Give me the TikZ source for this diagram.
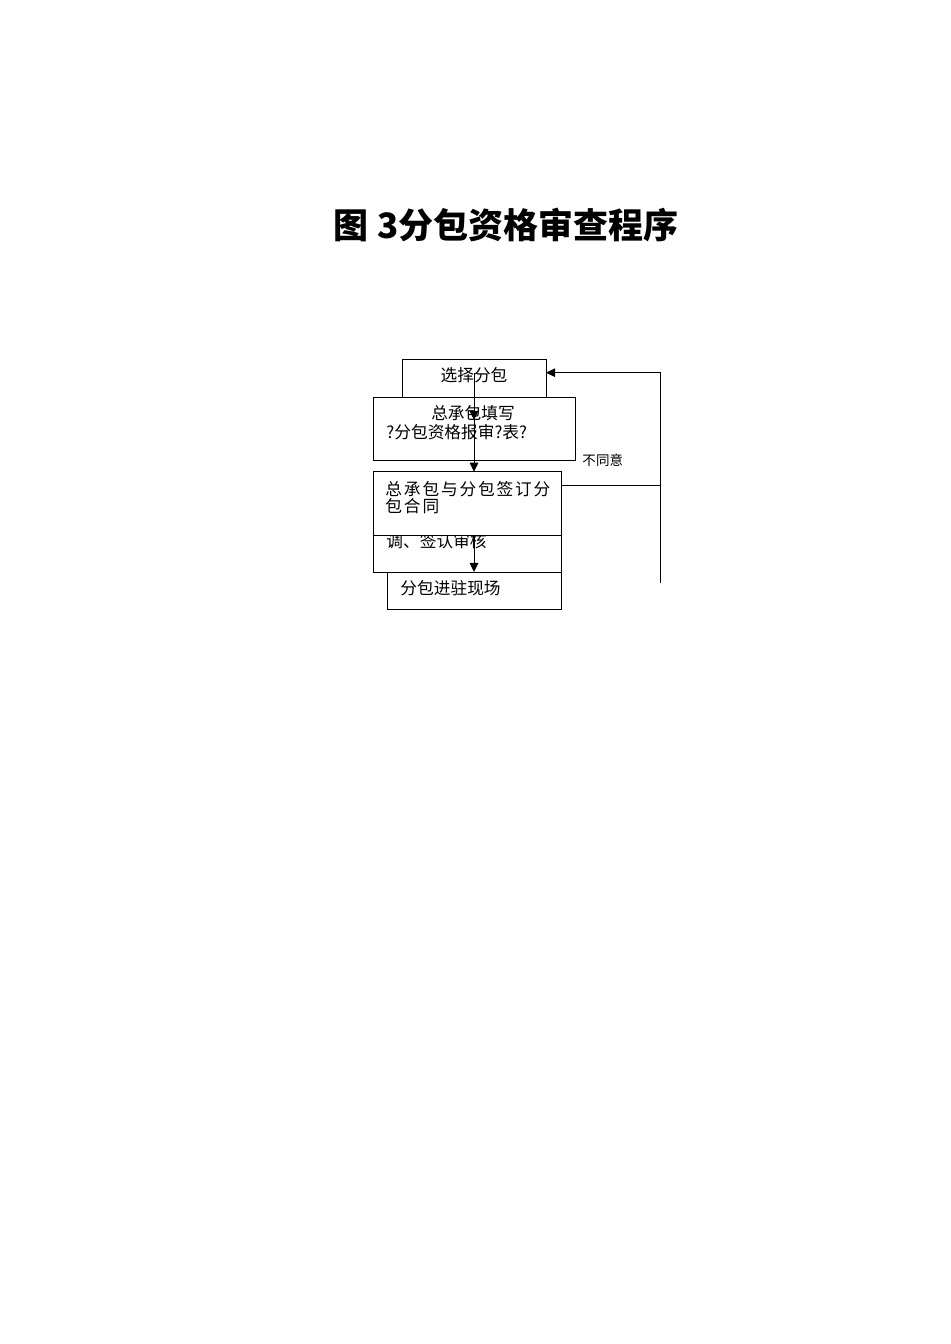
\documentclass[tikz,border=0pt]{standalone}
\usepackage{fontspec}
\setmainfont{Noto Sans CJK SC}
\newfontfamily\widecjk[LetterSpace=11]{Noto Sans CJK SC}
\usetikzlibrary{arrows.meta}
\tikzset{
  box/.style={draw, fill=white, rectangle, inner sep=0pt, outer sep=0pt, anchor=north west},
  txt/.style={inner sep=0pt, font=\fontsize{10.5pt}{10.7pt}\selectfont},
  arr/.style={-{Triangle[length=2mm,width=1.9mm]}},
}
\begin{document}
\begin{tikzpicture}[x=0.22105mm, y=-0.22105mm, line width=0.6pt]
  \useasboundingbox (0,0) rectangle (950,1344);
  \node[font=\fontsize{22pt}{24pt}\selectfont\bfseries] (title) at (506,225) {图\hspace{0.25em}3分包资格审查程序};
  \node[box, minimum width=31.83mm, minimum height=8.4mm] (sel) at (402,359) {};
  \node[txt] (tsel) at (474,375) {选择分包};
  \node[box, minimum width=44.65mm, minimum height=13.93mm] (fill) at (373,397) {};
  \node[txt] (tfilla) at (473,413) {总承包填写};
  \node[txt, anchor=west] (tfillb) at (386,432) {?分包资格报审?表?};
  \node[box, minimum width=41.56mm, minimum height=8.18mm] (check) at (373,535) {};
  \node[txt, anchor=west] (tcheck) at (386,541) {调、签认审核};
  \node[box, minimum width=41.56mm, minimum height=14mm] (sign) at (373,471.7) {};
  \node[txt, anchor=north west, align=left] (tsign) at (385,481) {\widecjk 总承包与分包签订分\\\widecjk 包合同};
  \node[box, minimum width=38.46mm, minimum height=8.18mm] (enter) at (387,572) {};
  \node[txt, anchor=west] (tenter) at (400,588) {分包进驻现场};
  \node[inner sep=0pt, anchor=west, font=\fontsize{8.5pt}{9pt}\selectfont] (tno) at (582,460) {不同意};
  \coordinate (s0) at (474,373);
  \coordinate (m1) at (474,420);
  \coordinate (b1) at (561,485);
  \coordinate (r1) at (660,583);
  \coordinate (r2) at (660,372.7);
  \draw[arr] (s0) -- (m1);
  \draw[arr] (m1) -- (m1 |- sign.north);
  \draw[arr] (m1 |- check.north) -- (m1 |- enter.north);
  \draw (b1) -- (b1 -| r1);
  \draw[arr] (r1) -- (r2) -- (r2 -| sel.east);
\end{tikzpicture}
\end{document}
